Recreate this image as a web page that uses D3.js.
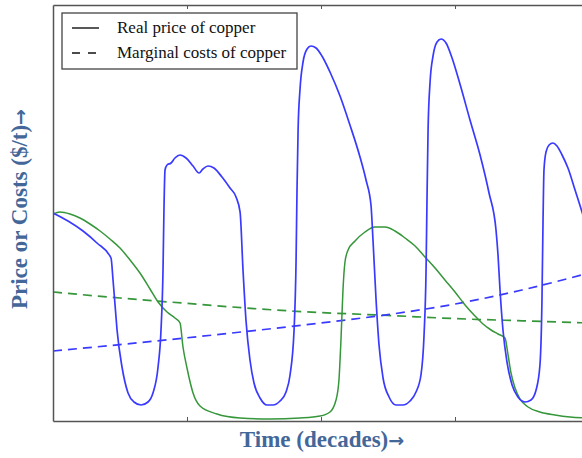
<!DOCTYPE html>
<html>
<head>
<meta charset="utf-8">
<script src="https://cdn.jsdelivr.net/npm/d3@7"></script>
<style>
  body { margin: 0; background: #fff; }
  svg { display: block; }
</style>
</head>
<body>
<div id="chart"></div>
<script>
// time in years from start, values in arbitrary $/t units
let priceT = [0, 11.2, 22.4, 32.8, 43.3, 44.8, 46.3, 47.8, 51.5, 56.0, 60.4, 65.7, 70.9, 74.6, 78.4, 80.6, 82.1, 82.8, 83.6, 85.1,
  88.1, 91.0, 94.8, 99.3, 104.5, 109.0, 111.9, 115.7, 120.1, 126.1, 132.1, 136.6, 139.6, 141.8, 144.0, 147.0, 150.0, 154.5, 159.7, 164.2,
  169.4, 173.9, 176.9, 179.9, 181.4, 182.1, 182.9, 184.3, 186.6, 189.6, 192.5, 196.3, 200.7, 206.7, 214.2, 221.6, 229.1, 233.6, 237.3, 238.8,
  241.1, 243.3, 246.3, 250.8, 256.0, 261.2, 266.4, 270.9, 274.6, 276.9, 278.4, 279.1, 279.9, 281.4, 283.6, 286.6, 289.6, 293.3, 297.8, 303.7,
  311.2, 318.7, 325.4, 330.6, 332.1, 333.6, 335.8, 338.8, 342.6, 347.0, 352.3, 356.7, 360.5, 363.4, 364.9, 365.7, 366.4, 367.9, 370.2, 373.1,
  376.1, 379.9, 384.3, 389.6, 394.8, 400.8];
let priceV = [52, 50, 47.5, 44.5, 40.75, 35.25, 29, 22.75, 13.5, 7, 4.75, 4, 4.75, 7, 13.5, 22.75, 37.75, 52.75, 62.75, 64,
  64.5, 65.75, 66.5, 65.75, 63.75, 62, 63, 63.75, 63.25, 61, 58.25, 56, 52.25, 37.75, 25.25, 15.25, 9.5, 5.75, 4, 4,
  5, 7.25, 11.5, 22.75, 40.25, 57.75, 72.75, 82.75, 89.75, 93, 93.75, 93.25, 91.25, 87.25, 81.25, 74, 66, 60.25, 54, 45.25,
  30.25, 19, 10.75, 6, 4, 4, 5, 7.25, 11.5, 21.5, 37.75, 55.25, 72.75, 84.75, 91.25, 94.75, 95.5, 94.5, 90.75, 84.25,
  75.25, 66.5, 57, 47.75, 41.5, 32.75, 22.75, 14.75, 9, 6, 4.75, 5.25, 7.75, 14, 30.25, 50.25, 62.75, 67.25, 69, 69.5,
  68.75, 66.5, 63.25, 57.75, 52.25, 45.25];

let greenT = [0, 5.2, 12.7, 20.1, 27.6, 35.1, 42.5, 50.0, 57.5, 64.9, 72.4, 78.4, 85.1, 91.0, 94.8, 97.0, 100.0, 104.5, 109.7, 122.4,
  139.6, 161.9, 184.3, 199.3, 206.7, 211.2, 213.4, 214.9, 216.4, 217.9, 220.2, 225.4, 232.8, 240.3, 247.8, 255.2, 262.7, 270.2, 277.6, 285.1,
  292.5, 300.0, 307.5, 314.9, 320.9, 326.9, 332.1, 337.3, 339.6, 341.8, 344.8, 348.5, 354.5, 363.4, 374.6, 385.8, 400.8];
let greenV = [51.75, 52.25, 51.75, 50.75, 49.25, 47.5, 45.5, 43.25, 40.25, 37, 33, 29.75, 27.25, 25.75, 24.5, 18.5, 13.25, 7, 3.75, 1.75,
  0.75, 0.5, 0.75, 1.25, 2.25, 5.25, 10.25, 20.25, 32.75, 39.75, 42.75, 45, 47.25, 48.5, 48.5, 47.5, 45.75, 43.75, 41, 38.25,
  35.25, 32.25, 29, 26.25, 24.25, 22.75, 21.75, 20.75, 16.5, 12, 8.25, 5.5, 3.5, 2.25, 1.5, 1, 0.75];

let costT = [0, 50, 100, 150, 200, 250, 300, 350, 400];
let costBlue = [17.5, 19.1, 20.8, 22.6, 24.5, 26.6, 29.25, 32.75, 37];
let costGreen = [32.25, 30.75, 29.4, 28.1, 27.1, 26.4, 25.6, 25.05, 24.5];

let tickYears = [100, 200, 300, 400];
let legendLabels = ["Real price of copper", "Marginal costs of copper"];

let blue = "#3a3aff";
let green = "#35963a";

let W = 582, H = 458;
let margin = { top: 5, left: 53, bottom: 37 };
let plotW = 670;
let plotH = H - margin.top - margin.bottom;

let svg = d3.select("#chart").append("svg")
  .attr("width", W)
  .attr("height", H);

let x = d3.scaleLinear().domain([0, 500]).range([0, plotW]);
let y = d3.scaleLinear().domain([0, 104]).range([plotH, 0]);

let g = svg.append("g")
  .attr("transform", "translate(" + margin.left + "," + margin.top + ")");

g.append("clipPath").attr("id", "clip")
  .append("rect").attr("width", plotW).attr("height", plotH);

let plot = g.append("g").attr("clip-path", "url(#clip)");

let line = d3.line()
  .x((d) => x(d[0]))
  .y((d) => y(d[1]))
  .curve(d3.curveMonotoneX);

function series(ts, vs) {
  return ts.map((t, i) => [t, vs[i]]);
}

plot.append("path")
  .datum(series(costT, costGreen))
  .attr("d", line)
  .attr("fill", "none")
  .attr("stroke", green)
  .attr("stroke-width", 1.7)
  .attr("stroke-dasharray", "9,6");

plot.append("path")
  .datum(series(costT, costBlue))
  .attr("d", line)
  .attr("fill", "none")
  .attr("stroke", blue)
  .attr("stroke-width", 1.7)
  .attr("stroke-dasharray", "9,6");

plot.append("path")
  .datum(series(greenT, greenV))
  .attr("d", line)
  .attr("fill", "none")
  .attr("stroke", green)
  .attr("stroke-width", 1.5);

plot.append("path")
  .datum(series(priceT, priceV))
  .attr("d", line)
  .attr("fill", "none")
  .attr("stroke", blue)
  .attr("stroke-width", 1.7);

// frame and inward ticks
let axisColor = "#555";

let axBottom = g.append("g")
  .attr("transform", "translate(0," + plotH + ")")
  .call(d3.axisBottom(x).tickValues(tickYears).tickSizeInner(-4).tickSizeOuter(0).tickFormat(""));
let axTop = g.append("g")
  .call(d3.axisTop(x).tickValues(tickYears).tickSizeInner(-4).tickSizeOuter(0).tickFormat(""));
let axLeft = g.append("g")
  .call(d3.axisLeft(y).tickValues([]).tickSizeOuter(0));

[axBottom, axTop, axLeft].forEach((a) => {
  a.select(".domain").attr("stroke", axisColor).attr("stroke-width", 1.5);
  a.selectAll(".tick line").attr("stroke", axisColor).attr("stroke-width", 1);
});

// legend
let legend = svg.append("g").attr("transform", "translate(62,13)");
legend.append("rect")
  .attr("width", 235)
  .attr("height", 56)
  .attr("fill", "#fff")
  .attr("stroke", "#444")
  .attr("stroke-width", 1.3);

legendLabels.forEach((label, i) => {
  let yy = 15 + i * 25;
  legend.append("line")
    .attr("x1", 10).attr("x2", 37)
    .attr("y1", yy).attr("y2", yy)
    .attr("stroke", "#111")
    .attr("stroke-width", 1.4)
    .attr("stroke-dasharray", i === 1 ? "8,8" : null);
  legend.append("text")
    .attr("x", 55)
    .attr("y", yy + 5)
    .attr("font-family", "Liberation Serif, serif")
    .attr("font-size", 17)
    .attr("fill", "#111")
    .text(label);
});

// axis titles
let titleColor = "#44679a";

function axisTitle(sel, label) {
  sel.attr("text-anchor", "middle")
    .attr("font-family", "Liberation Serif, serif")
    .attr("font-weight", "bold")
    .attr("font-size", 23)
    .attr("fill", titleColor);
  sel.append("tspan").text(label);
  sel.append("tspan")
    .attr("font-family", "DejaVu Sans, sans-serif")
    .attr("font-size", 19)
    .text("→");
}

svg.append("text")
  .attr("x", 322)
  .attr("y", 447)
  .call(axisTitle, "Time (decades)");

svg.append("text")
  .attr("transform", "translate(27,209) rotate(-90)")
  .call(axisTitle, "Price or Costs ($/t)");
</script>
</body>
</html>
